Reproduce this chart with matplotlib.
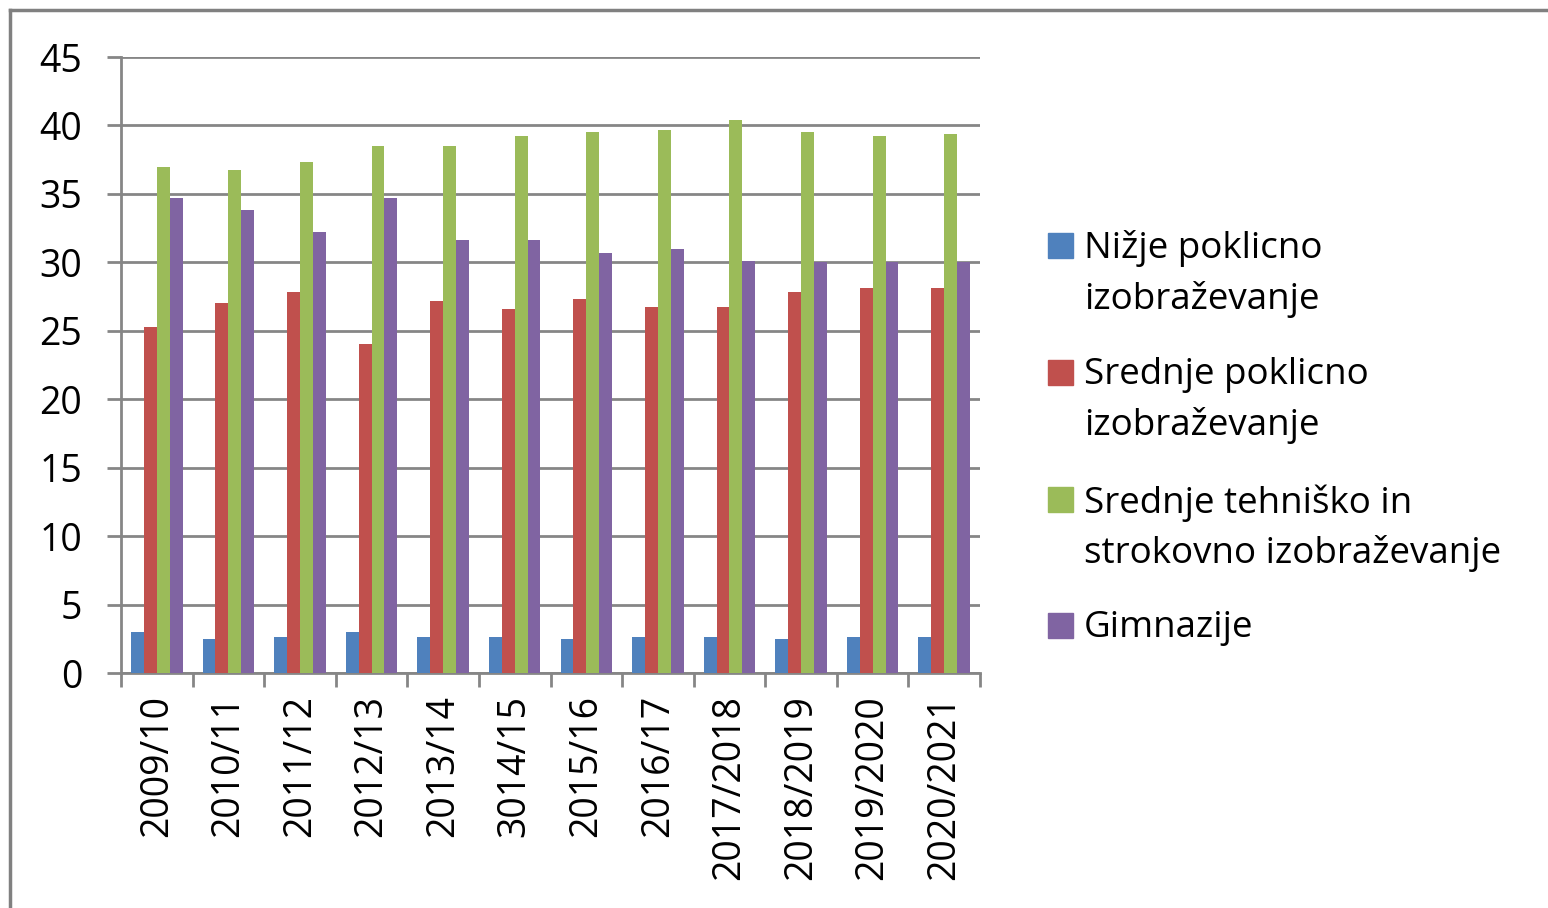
import numpy as np
import matplotlib.pyplot as plt
from matplotlib.patches import Rectangle
from matplotlib.lines import Line2D

plt.rcParams["font.family"] = ["Open Sans", "DejaVu Sans"]

years = ["2009/10", "2010/11", "2011/12", "2012/13", "2013/14", "3014/15",
         "2015/16", "2016/17", "2017/2018", "2018/2019", "2019/2020", "2020/2021"]
nizje = [3.0, 2.5, 2.65, 3.0, 2.65, 2.65, 2.5, 2.65, 2.65, 2.5, 2.65, 2.65]
srednje_poklicno = [25.3, 27.0, 27.8, 24.0, 27.2, 26.6, 27.3, 26.75, 26.75, 27.8, 28.1, 28.1]
srednje_tehnisko = [37.0, 36.75, 37.3, 38.5, 38.5, 39.2, 39.5, 39.7, 40.4, 39.5, 39.2, 39.4]
gimnazije = [34.7, 33.8, 32.2, 34.7, 31.6, 31.6, 30.7, 31.0, 30.1, 30.0, 30.0, 30.0]

series = [
    ("Nižje poklicno\nizobraževanje", nizje, "#4F81BD"),
    ("Srednje poklicno\nizobraževanje", srednje_poklicno, "#C0504D"),
    ("Srednje tehniško in\nstrokovno izobraževanje", srednje_tehnisko, "#9BBB59"),
    ("Gimnazije", gimnazije, "#8064A2"),
]

W, H = 1548, 908
fig = plt.figure(figsize=(W / 100, H / 100), dpi=100)
ax = fig.add_axes([121 / W, 1 - 673 / H, (980 - 121) / W, (673 - 57) / H])

x = np.arange(len(years))
bw = 0.18
for i, (name, vals, col) in enumerate(series):
    ax.bar(x + (i - 1.5) * bw, vals, width=bw, color=col, zorder=3)

grey = "#868686"
ax.set_ylim(0, 45)
ax.set_xlim(-0.5, len(years) - 0.5)
ax.set_yticks(np.arange(0, 46, 5))
ax.yaxis.grid(True, color=grey, lw=2, zorder=0)
for s in ["top", "right"]:
    ax.spines[s].set_visible(False)
for s in ["left", "bottom"]:
    ax.spines[s].set_color(grey)
    ax.spines[s].set_linewidth(2)

ax.set_xticks(x)
ax.set_xticklabels(years, rotation=90, fontsize=27)
ax.set_xticks(np.arange(-0.5, len(years)), minor=True)
ax.tick_params(axis="x", which="major", length=0, pad=16)
ax.tick_params(axis="x", which="minor", length=10, width=2, color=grey)
ax.tick_params(axis="y", length=10, width=2, color=grey, labelsize=27, pad=18)

# legend drawn by hand so the square sits on the first line of each label
ly = [246, 373, 500, 626]
for (name, vals, col), y in zip(series, ly):
    fig.patches.append(Rectangle((1048 / W, 1 - (y + 12) / H), 25 / W, 25 / H,
                                 transform=fig.transFigure, color=col))
    fig.text(1084 / W, 1 - (y - 16) / H, name, fontsize=26.5, va="top", ha="left",
             linespacing=1.5)

# outer frame (top and left edges)
fig.add_artist(Line2D([10 / W, 1], [1 - 10 / H, 1 - 10 / H], color="#808080", lw=2.5))
fig.add_artist(Line2D([10 / W, 10 / W], [0, 1 - 10 / H], color="#808080", lw=2.5))

fig.savefig("out.png", dpi=100, facecolor="white")
